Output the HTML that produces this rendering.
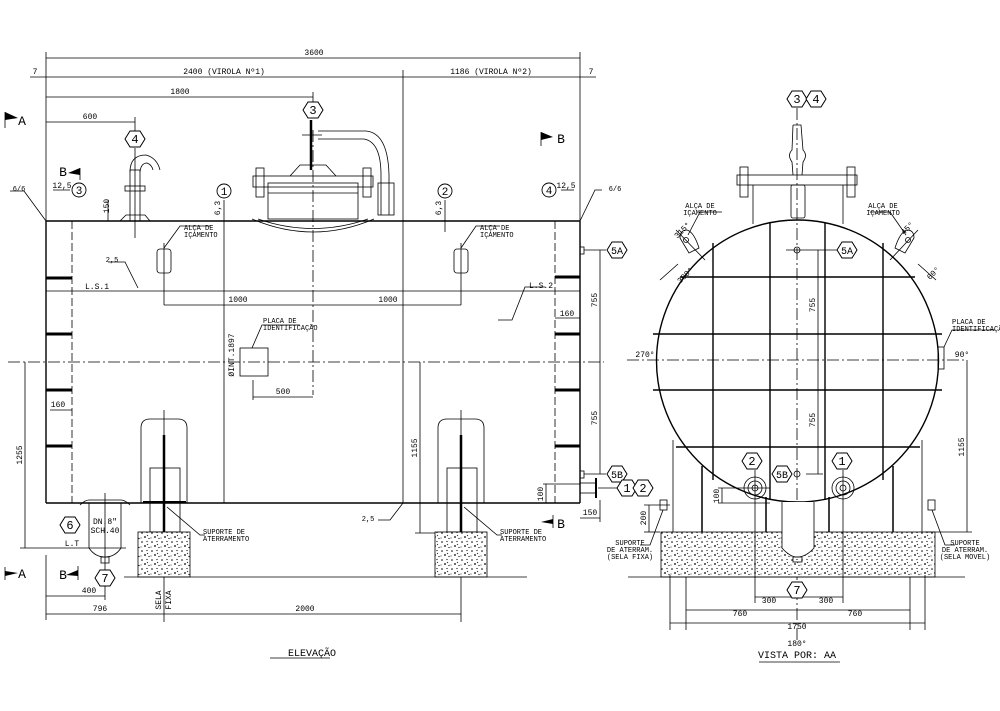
<!DOCTYPE html>
<html><head><meta charset="utf-8"><style>
html,body{margin:0;padding:0;background:#fff}
svg{display:block}
text{font-family:"Liberation Mono","DejaVu Sans Mono",monospace;fill:#000}
</style></head><body>
<svg width="1000" height="711" viewBox="0 0 1000 711" xmlns="http://www.w3.org/2000/svg">
<defs>
<pattern id="conc" width="10" height="9" patternUnits="userSpaceOnUse">
<rect width="10" height="9" fill="#fff"/>
<circle cx="2" cy="2" r="0.8" fill="#000"/><circle cx="7" cy="1.5" r="0.6" fill="#000"/>
<circle cx="5" cy="6" r="0.9" fill="#000"/><circle cx="9" cy="7.5" r="0.6" fill="#000"/>
<circle cx="1" cy="7" r="0.5" fill="#000"/><path d="M7 4l1 1" stroke="#000" stroke-width="0.7"/>
</pattern>
<g id="hex"><polygon points="-10,0 -5,-8 5,-8 10,0 5,8 -5,8" fill="#fff" stroke="#000" stroke-width="1"/></g>
</defs>
<g stroke="#000" fill="none" stroke-width="0.8">
<line x1="46" y1="58" x2="580" y2="58"/>
<line x1="46" y1="52" x2="46" y2="221"/><line x1="580" y1="52" x2="580" y2="221"/>
<line x1="30" y1="77" x2="596" y2="77"/>
<line x1="403" y1="70" x2="403" y2="503"/>
<line x1="46" y1="97" x2="313" y2="97"/>
<line x1="46" y1="122" x2="135" y2="122"/>
<line x1="135" y1="117" x2="135" y2="131"/>
<line x1="313" y1="92" x2="313" y2="102"/>
<line x1="46" y1="221" x2="580" y2="221" stroke-width="1.6"/>
<line x1="46" y1="503" x2="580" y2="503" stroke-width="1.6"/>
<line x1="46" y1="221" x2="46" y2="503" stroke-width="1.4"/>
<line x1="580" y1="221" x2="580" y2="503" stroke-width="1.4"/>
<line x1="72" y1="221" x2="72" y2="503" stroke-dasharray="8 3"/>
<line x1="555" y1="221" x2="555" y2="503" stroke-dasharray="8 3"/>
<g stroke-width="3">
<line x1="46" y1="278" x2="72" y2="278"/><line x1="46" y1="334" x2="72" y2="334"/>
<line x1="46" y1="390" x2="72" y2="390"/><line x1="46" y1="446" x2="72" y2="446"/>
<line x1="555" y1="277" x2="580" y2="277"/><line x1="555" y1="334" x2="580" y2="334"/>
<line x1="555" y1="390" x2="580" y2="390"/><line x1="555" y1="446" x2="580" y2="446"/>
</g>
<line x1="46" y1="291" x2="580" y2="291"/>
<line x1="8" y1="362" x2="604" y2="362" stroke-dasharray="12 3 2 3"/>
<line x1="313" y1="130" x2="313" y2="395" stroke-dasharray="12 3 2 3"/>
<line x1="224" y1="200" x2="224" y2="503"/>
<line x1="445" y1="200" x2="445" y2="232"/>
<polyline points="10,191 24,191 46,221"/><polyline points="602,190 595,190 580,221"/>
<line x1="53" y1="190" x2="70" y2="190"/><line x1="561" y1="190" x2="574" y2="190"/>
<rect x="130" y="170" width="10" height="51"/>
<path d="M130 172 Q130 155 146 155 Q157 158 160 170 M140 172 Q141 163 147 163 Q152 165 153 170"/>
<rect x="125" y="186" width="20" height="5"/>
<line x1="135" y1="148" x2="135" y2="238"/>
<path d="M120 221 L126 215 L145 215 L150 221"/>
<line x1="108" y1="200" x2="108" y2="221"/>
<rect x="253" y="176" width="120" height="11"/>
<rect x="256" y="168" width="8" height="29"/><rect x="363" y="168" width="8" height="29"/>
<rect x="268" y="183" width="90" height="36"/>
<line x1="268" y1="193" x2="358" y2="193"/>
<path d="M252 219 Q313 245 374 219 M258 219 Q313 238 368 219"/>
<path d="M290 176 L300 165 L326 165 L336 176"/>
<line x1="311" y1="120" x2="311" y2="170" stroke-width="2.5"/>
<path d="M318 131 L366 131 Q388 133 389 175 L389 215 M318 139 L364 139 Q381 142 381 175 L381 215"/>
<rect x="378" y="183" width="16" height="32"/>
<line x1="302" y1="135" x2="322" y2="135"/>
<rect x="157" y="249" width="14" height="24" rx="3"/><line x1="164" y1="243" x2="164" y2="305"/>
<rect x="454" y="249" width="14" height="24" rx="3"/><line x1="461" y1="243" x2="461" y2="305"/>
<polyline points="164,248 180,226 210,226"/><polyline points="461,248 476,226 500,226"/>
<line x1="164" y1="305" x2="461" y2="305"/>
<polyline points="108,262 125,262 138,288"/>
<polyline points="498,320 512,320 525,287 545,287"/>
<rect x="240" y="348" width="28" height="28"/>
<polyline points="252,348 262,325 300,325"/>
<line x1="253" y1="380" x2="253" y2="400"/><line x1="253" y1="397" x2="313" y2="397"/>
<path d="M141 503 L141 428 Q141 419 150 419 L178 419 Q187 419 187 428 L187 503"/>
<path d="M438 503 L438 428 Q438 419 447 419 L475 419 Q484 419 484 428 L484 503"/>
<rect x="150" y="468" width="30" height="64"/><rect x="447" y="468" width="30" height="64"/>
<line x1="164" y1="435" x2="164" y2="532" stroke-width="2.5"/>
<line x1="461" y1="435" x2="461" y2="532" stroke-width="2.5"/>
<line x1="164" y1="410" x2="164" y2="622"/><line x1="461" y1="410" x2="461" y2="622"/>
<line x1="143" y1="502" x2="186" y2="502" stroke-width="2"/>
<rect x="138" y="532" width="52" height="45" fill="url(#conc)"/>
<rect x="435" y="532" width="52" height="45" fill="url(#conc)"/>
<line x1="124" y1="577" x2="527" y2="577"/>
<polyline points="167,507 200,535 205,535"/><polyline points="464,507 497,535 502,535"/>
<polyline points="378,520 390,520 403,503"/>
<path d="M89 503 L89 548 Q95 557 105 557 Q115 557 121 548 L121 503"/>
<path d="M80 505 Q85 500 89 500 L121 500 Q125 500 130 505"/>
<rect x="101" y="557" width="8" height="6"/>
<line x1="105" y1="493" x2="105" y2="600"/>
<line x1="20" y1="548" x2="126" y2="548"/>
<line x1="25" y1="362" x2="25" y2="548"/>
<line x1="420" y1="362" x2="420" y2="533"/><line x1="415" y1="533" x2="435" y2="533"/>
<line x1="46" y1="596" x2="105" y2="596"/>
<line x1="46" y1="614" x2="461" y2="614"/>
<line x1="46" y1="555" x2="46" y2="620"/>
<rect x="580" y="247" width="4" height="7"/>
<rect x="580" y="471" width="4" height="7"/>
<rect x="580" y="483" width="16" height="10"/><line x1="596" y1="478" x2="596" y2="498" stroke-width="2"/>
<line x1="584" y1="250" x2="606" y2="250"/><line x1="584" y1="474" x2="606" y2="474"/>
<line x1="600" y1="250" x2="600" y2="474"/>
<line x1="598" y1="488" x2="617" y2="488"/>
<line x1="580" y1="518" x2="600" y2="518"/><line x1="600" y1="500" x2="600" y2="522"/>
<line x1="543" y1="484" x2="580" y2="484"/><line x1="546" y1="484" x2="546" y2="503"/>
<line x1="555" y1="318" x2="580" y2="318"/><line x1="50" y1="410" x2="72" y2="410"/>
<line x1="5" y1="112" x2="5" y2="128"/><line x1="5" y1="567" x2="5" y2="580"/>
<line x1="80" y1="168" x2="80" y2="180"/><line x1="541" y1="132" x2="541" y2="146"/>
<line x1="78" y1="566" x2="78" y2="580"/><line x1="553" y1="515" x2="553" y2="528"/>
<!-- VIEW AA -->
<circle cx="797.5" cy="361" r="141" stroke-width="1.4"/>
<line x1="627" y1="360" x2="965" y2="360" stroke-dasharray="12 3 2 3"/>
<line x1="797" y1="108" x2="797" y2="640" stroke-dasharray="12 3 2 3"/>
<g stroke-width="1.4">
<line x1="713" y1="243" x2="713" y2="480"/><line x1="770" y1="223" x2="770" y2="500"/>
<line x1="825" y1="223" x2="825" y2="500"/><line x1="883" y1="243" x2="883" y2="480"/>
<line x1="680" y1="277" x2="915" y2="277"/><line x1="653" y1="334" x2="942" y2="334"/>
<line x1="653" y1="390" x2="942" y2="390"/><line x1="676" y1="447" x2="920" y2="447"/>
</g>
<line x1="673" y1="440" x2="673" y2="532"/><line x1="922" y1="440" x2="922" y2="532"/>
<line x1="702" y1="466" x2="702" y2="532" stroke-width="1.5"/><line x1="893" y1="466" x2="893" y2="532" stroke-width="1.5"/>
<line x1="766" y1="497" x2="766" y2="532" stroke-width="1.5"/><line x1="829" y1="497" x2="829" y2="532" stroke-width="1.5"/>
<line x1="686" y1="532" x2="686" y2="630"/><line x1="910" y1="532" x2="910" y2="630"/>
<rect x="661" y="532" width="274" height="45" fill="url(#conc)"/>
<line x1="628" y1="577" x2="965" y2="577"/>
<line x1="670" y1="575" x2="670" y2="630"/><line x1="925" y1="575" x2="925" y2="630"/>
<path d="M782 502 L782 548 Q790 557 797 557 Q806 557 814 548 L814 502" fill="#fff"/>
<rect x="793" y="557" width="9" height="5"/>
<circle cx="755" cy="488" r="11"/><circle cx="755" cy="488" r="7"/><circle cx="755" cy="488" r="3"/>
<circle cx="843" cy="488" r="11"/><circle cx="843" cy="488" r="7"/><circle cx="843" cy="488" r="3"/>
<line x1="755" y1="470" x2="755" y2="603"/><line x1="843" y1="470" x2="843" y2="603"/>
<line x1="718" y1="488" x2="770" y2="488"/><line x1="718" y1="503" x2="770" y2="503"/>
<line x1="722" y1="488" x2="722" y2="503"/>
<rect x="737" y="175" width="120" height="10"/>
<rect x="740" y="167" width="8" height="30"/><rect x="847" y="167" width="8" height="30"/>
<line x1="753" y1="185" x2="753" y2="224"/><line x1="843" y1="185" x2="843" y2="224"/>
<rect x="791" y="185" width="14" height="33" rx="2"/>
<path d="M793 125 L801 125 L803 150 Q808 155 803 162 L802 175 M793 125 L792 150 Q787 155 792 162 L793 175"/>
<circle cx="797" cy="250" r="3"/><circle cx="797" cy="474" r="3"/>
<line x1="786" y1="250" x2="838" y2="250"/><line x1="806" y1="474" x2="823" y2="474"/>
<line x1="818" y1="250" x2="818" y2="474"/>
<line x1="788" y1="474" x2="792" y2="474"/>
<path d="M680 238 Q680 230 687 230 Q694 232 699 248 L689 253 Z"/><circle cx="686" cy="240" r="2.5"/>
<path d="M914 238 Q914 230 907 230 Q900 232 895 248 L905 253 Z"/><circle cx="908" cy="240" r="2.5"/>
<line x1="676" y1="230" x2="705" y2="260"/><line x1="918" y1="230" x2="890" y2="260"/>
<line x1="688" y1="235" x2="700" y2="212"/><line x1="700" y1="212" x2="722" y2="212"/>
<line x1="906" y1="235" x2="890" y2="212"/><line x1="870" y1="212" x2="890" y2="212"/>
<line x1="660" y1="280" x2="678" y2="264"/><line x1="936" y1="280" x2="918" y2="264"/>
<rect x="938" y="347" width="6" height="22"/>
<polyline points="944,347 952,330 995,330"/>
<line x1="967" y1="360" x2="967" y2="532"/><line x1="925" y1="532" x2="972" y2="532"/>
<line x1="649" y1="505" x2="649" y2="532"/><line x1="644" y1="505" x2="670" y2="505"/><line x1="644" y1="532" x2="660" y2="532"/>
<rect x="660" y="500" width="7" height="10"/><rect x="928" y="500" width="7" height="10"/>
<polyline points="663,510 650,545 640,545"/><polyline points="932,510 945,545 955,545"/>
<line x1="755" y1="597" x2="843" y2="597"/>
<line x1="686" y1="610" x2="910" y2="610"/>
<line x1="670" y1="623" x2="925" y2="623"/>
<line x1="759" y1="662" x2="840" y2="662"/>
<line x1="270" y1="658" x2="330" y2="658"/>
</g>
<g fill="#000">
<polygon points="5,112 18,118 5,120"/><polygon points="80,168 68,173 80,175"/>
<polygon points="541,132 553,137 541,140"/><polygon points="5,571 18,573 5,576"/>
<polygon points="78,570 66,575 78,576"/><polygon points="553,519 541,522 553,524"/>
</g>
<use href="#hex" x="313" y="110"/><use href="#hex" x="135" y="139"/>
<use href="#hex" x="617" y="250"/><use href="#hex" x="617" y="474"/>
<use href="#hex" x="627" y="488"/><use href="#hex" x="643" y="488"/>
<use href="#hex" x="70" y="525"/><use href="#hex" x="105" y="578"/>
<use href="#hex" x="797" y="99"/><use href="#hex" x="816" y="99"/>
<use href="#hex" x="847" y="250"/><use href="#hex" x="782" y="474"/>
<use href="#hex" x="752" y="461"/><use href="#hex" x="842" y="461"/>
<use href="#hex" x="797" y="590"/>
<g fill="#fff" stroke="#000" stroke-width="0.9">
<circle cx="79" cy="190" r="7"/><circle cx="224" cy="191" r="7"/>
<circle cx="445" cy="191" r="7"/><circle cx="549" cy="190" r="7"/>
</g>
<g font-size="12" text-anchor="middle" font-family="Liberation Serif">
<text x="313" y="114">3</text><text x="135" y="143">4</text>
<text x="617" y="254" font-size="10">5A</text><text x="617" y="478" font-size="10">5B</text>
<text x="627" y="492">1</text><text x="643" y="492">2</text>
<text x="70" y="529">6</text><text x="105" y="582">7</text>
<text x="797" y="103">3</text><text x="816" y="103">4</text>
<text x="847" y="254" font-size="10">5A</text><text x="782" y="478" font-size="10">5B</text>
<text x="752" y="465">2</text><text x="842" y="465">1</text><text x="797" y="594">7</text>
<text x="79" y="194" font-size="11">3</text><text x="224" y="195" font-size="11">1</text>
<text x="445" y="195" font-size="11">2</text><text x="549" y="194" font-size="11">4</text>
<text x="22" y="125" font-size="13">A</text><text x="22" y="578" font-size="13">A</text>
<text x="63" y="176" font-size="13">B</text><text x="63" y="579" font-size="13">B</text>
<text x="561" y="143" font-size="13">B</text><text x="561" y="528" font-size="13">B</text>
</g>
<g font-size="8" text-anchor="middle">
<text x="314" y="55">3600</text>
<text x="224" y="74">2400 (VIROLA Nº1)</text><text x="491" y="74">1186 (VIROLA Nº2)</text>
<text x="35" y="74">7</text><text x="591" y="74">7</text>
<text x="180" y="94">1800</text><text x="90" y="119">600</text>
<text x="62" y="188">12,5</text><text x="566" y="188">12,5</text>
<text x="238" y="302">1000</text><text x="388" y="302">1000</text>
<text x="283" y="394">500</text>
<text x="85" y="289" text-anchor="start">L.S.1</text><text x="529" y="288" text-anchor="start">L.S.2</text>
<text x="58" y="407">160</text><text x="567" y="316">160</text>
<text x="89" y="593">400</text><text x="100" y="611">796</text><text x="305" y="611">2000</text>
<text x="590" y="515">150</text>
<text x="112" y="262" font-size="7">2,5</text><text x="368" y="521" font-size="7">2,5</text>
<text x="184" y="230" font-size="7" text-anchor="start">ALÇA DE</text><text x="184" y="237" font-size="7" text-anchor="start">IÇAMENTO</text>
<text x="480" y="230" font-size="7" text-anchor="start">ALÇA DE</text><text x="480" y="237" font-size="7" text-anchor="start">IÇAMENTO</text>
<text x="263" y="323" font-size="7" text-anchor="start">PLACA DE</text><text x="263" y="330" font-size="7" text-anchor="start">IDENTIFICAÇÃO</text>
<text x="203" y="534" font-size="7" text-anchor="start">SUPORTE DE</text><text x="203" y="541" font-size="7" text-anchor="start">ATERRAMENTO</text>
<text x="500" y="534" font-size="7" text-anchor="start">SUPORTE DE</text><text x="500" y="541" font-size="7" text-anchor="start">ATERRAMENTO</text>
<text x="105" y="524">DN.8"</text><text x="105" y="533">SCH.40</text>
<text x="72" y="546">L.T</text>
<text x="312" y="656" font-size="10">ELEVAÇÃO</text>
<text x="797" y="658" font-size="10">VISTA POR: AA</text>
<text x="769" y="603">300</text><text x="826" y="603">300</text>
<text x="740" y="616">760</text><text x="855" y="616">760</text>
<text x="797" y="629">1750</text><text x="797" y="646">180°</text>
<text x="645" y="357">270°</text><text x="962" y="357">90°</text>
<text x="952" y="324" font-size="7" text-anchor="start">PLACA DE</text><text x="952" y="331" font-size="7" text-anchor="start">IDENTIFICAÇÃO</text>
<text x="700" y="208" font-size="7">ALÇA DE</text><text x="700" y="215" font-size="7">IÇAMENTO</text>
<text x="883" y="208" font-size="7">ALÇA DE</text><text x="883" y="215" font-size="7">IÇAMENTO</text>
<text x="630" y="545" font-size="7">SUPORTE</text><text x="630" y="552" font-size="7">DE ATERRAM.</text><text x="630" y="559" font-size="7">(SELA FIXA)</text>
<text x="965" y="545" font-size="7">SUPORTE</text><text x="965" y="552" font-size="7">DE ATERRAM.</text><text x="965" y="559" font-size="7">(SELA MOVEL)</text>
<text x="19" y="191" font-size="7">6/6</text><text x="615" y="191" font-size="7">6/6</text>
<text transform="translate(109,206) rotate(-90)">150</text>
<text transform="translate(220,208) rotate(-90)">6,3</text>
<text transform="translate(441,208) rotate(-90)">6,3</text>
<text transform="translate(234,355) rotate(-90)">ØINT.1897</text>
<text transform="translate(22,455) rotate(-90)">1255</text>
<text transform="translate(417,448) rotate(-90)">1155</text>
<text transform="translate(597,300) rotate(-90)">755</text>
<text transform="translate(597,418) rotate(-90)">755</text>
<text transform="translate(543,494) rotate(-90)">100</text>
<text transform="translate(815,305) rotate(-90)">755</text>
<text transform="translate(815,420) rotate(-90)">755</text>
<text transform="translate(964,447) rotate(-90)">1155</text>
<text transform="translate(646,518) rotate(-90)">200</text>
<text transform="translate(719,496) rotate(-90)">100</text>
<text transform="translate(161,600) rotate(-90)">SELA</text>
<text transform="translate(171,600) rotate(-90)">FIXA</text>
<text transform="translate(684,232) rotate(-45)">315°</text>
<text transform="translate(909,230) rotate(-45)">45°</text>
<text transform="translate(687,277) rotate(-45)">300°</text>
<text transform="translate(935,275) rotate(-45)">60°</text>
</g>
</svg>
</body></html>
